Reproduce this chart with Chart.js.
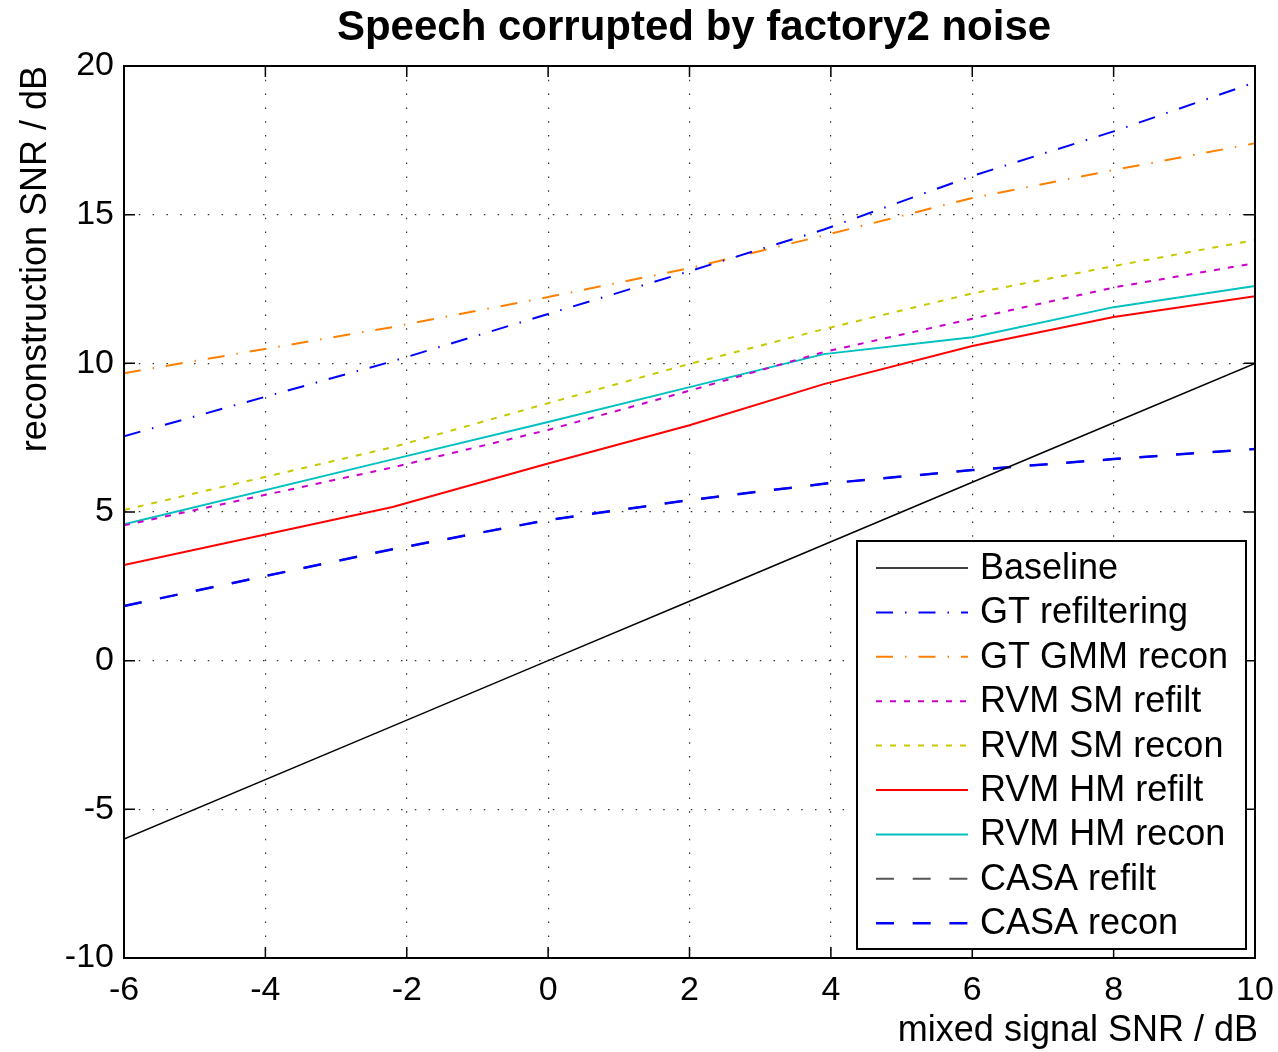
<!DOCTYPE html>
<html>
<head>
<meta charset="utf-8">
<script src="https://cdn.jsdelivr.net/npm/chart.js@4.4.0/dist/chart.umd.min.js"></script>
<style>
  body { margin: 0; background: #fff; }
  canvas { display: block; }
</style>
</head>
<body>
<canvas id="snrChart" width="1278" height="1052"></canvas>
<script>
// mixed signal SNR (dB) where each system was measured
const mixedSnr = [-6, -2.2, 0, 2, 3.9, 6, 8, 10];

// reconstruction SNR (dB) per system
const baseline     = [-6, -2.2, 0, 2, 3.9, 6, 8, 10];
const gtRefilter   = [7.55, 10.07, 11.66, 13.1, 14.5, 16.3, 17.8, 19.45];
const gtGmmRecon   = [9.67, 11.22, 12.23, 13.2, 14.3, 15.56, 16.5, 17.4];
const rvmSmRefilt  = [4.55, 6.5, 7.76, 9.08, 10.38, 11.5, 12.55, 13.37];
const rvmSmRecon   = [5.07, 7.18, 8.66, 9.98, 11.15, 12.35, 13.27, 14.15];
const rvmHmRefilt  = [3.22, 5.17, 6.63, 7.92, 9.3, 10.58, 11.56, 12.26];
const rvmHmRecon   = [4.59, 6.77, 8.03, 9.2, 10.31, 10.88, 11.89, 12.6];
const casaRefilt   = [1.84, 3.75, 4.73, 5.4, 5.95, 6.41, 6.78, 7.12];
const casaRecon    = [1.84, 3.75, 4.73, 5.4, 5.95, 6.41, 6.78, 7.12];

const xTicks = [-6, -4, -2, 0, 2, 4, 6, 8, 10];
const yTicks = [-10, -5, 0, 5, 10, 15, 20];

const FONT = "'Liberation Sans', Arial, Helvetica, sans-serif";

function pts(ys) {
    return mixedSnr.map((x, i) => ({ x: x, y: ys[i] }));
}

const dashDot = [17, 12, 1.5, 12];
const dotted = [6, 8];
const dashed = [18, 18.7];

// Box, inward ticks, titles and the legend, MATLAB style
const matlabLook = {
    id: 'matlabLook',
    afterDatasetsDraw(chart) {
        const ctx = chart.ctx;
        const a = chart.chartArea;
        const xs = chart.scales.x;
        const ys = chart.scales.y;
        ctx.save();
        ctx.strokeStyle = '#000';
        ctx.lineWidth = 2;
        ctx.setLineDash([]);
        ctx.strokeRect(a.left, a.top, a.right - a.left, a.bottom - a.top);

        // inward tick marks on all four sides
        ctx.lineWidth = 1.5;
        ctx.beginPath();
        xTicks.forEach(v => {
            const px = xs.getPixelForValue(v);
            ctx.moveTo(px, a.bottom); ctx.lineTo(px, a.bottom - 11);
            ctx.moveTo(px, a.top); ctx.lineTo(px, a.top + 11);
        });
        yTicks.forEach(v => {
            const py = ys.getPixelForValue(v);
            ctx.moveTo(a.left, py); ctx.lineTo(a.left + 11, py);
            ctx.moveTo(a.right, py); ctx.lineTo(a.right - 11, py);
        });
        ctx.stroke();
        ctx.restore();
    },
    afterDraw(chart) {
        const ctx = chart.ctx;
        const a = chart.chartArea;
        ctx.save();
        ctx.fillStyle = '#000';

        // title
        ctx.font = 'bold 42px ' + FONT;
        ctx.textAlign = 'center';
        ctx.textBaseline = 'middle';
        ctx.fillText('Speech corrupted by factory2 noise', 694, 28);

        // axis titles
        ctx.font = '36px ' + FONT;
        ctx.textAlign = 'right';
        ctx.fillText('mixed signal SNR / dB', 1258, 1031);
        ctx.save();
        ctx.translate(36, a.top);
        ctx.rotate(-Math.PI / 2);
        ctx.textAlign = 'right';
        ctx.textBaseline = 'middle';
        ctx.fillText('reconstruction SNR / dB', 0, 0);
        ctx.restore();

        // legend
        const lx = 857, ly = 541, lw = 389, lh = 408;
        ctx.fillStyle = '#fff';
        ctx.fillRect(lx, ly, lw, lh);
        ctx.strokeStyle = '#000';
        ctx.lineWidth = 2;
        ctx.setLineDash([]);
        ctx.strokeRect(lx, ly, lw, lh);

        ctx.font = '36px ' + FONT;
        ctx.textAlign = 'left';
        ctx.textBaseline = 'middle';
        chart.data.datasets.forEach((ds, i) => {
            const y = 568 + i * 44.4;
            ctx.strokeStyle = ds.borderColor;
            ctx.lineWidth = ds.borderWidth;
            ctx.setLineDash(ds.borderDash || []);
            ctx.beginPath();
            ctx.moveTo(876, y);
            ctx.lineTo(968, y);
            ctx.stroke();
            ctx.setLineDash([]);
            ctx.fillStyle = '#000';
            ctx.fillText(ds.label, 980, y + 1);
        });
        ctx.restore();
    }
};

const ctx = document.getElementById('snrChart').getContext('2d');

const myChart = new Chart(ctx, {
    type: 'line',
    data: {
        datasets: [
            { label: 'Baseline', data: pts(baseline), borderColor: '#000000', borderWidth: 1.5, borderDash: [] },
            { label: 'GT refiltering', data: pts(gtRefilter), borderColor: '#0000ff', borderWidth: 2, borderDash: dashDot },
            { label: 'GT GMM recon', data: pts(gtGmmRecon), borderColor: '#ff8000', borderWidth: 2, borderDash: dashDot },
            { label: 'RVM SM refilt', data: pts(rvmSmRefilt), borderColor: '#cc00cc', borderWidth: 2, borderDash: dotted },
            { label: 'RVM SM recon', data: pts(rvmSmRecon), borderColor: '#c8c800', borderWidth: 2, borderDash: dotted },
            { label: 'RVM HM refilt', data: pts(rvmHmRefilt), borderColor: '#ff0000', borderWidth: 2, borderDash: [] },
            { label: 'RVM HM recon', data: pts(rvmHmRecon), borderColor: '#00c0c0', borderWidth: 2, borderDash: [] },
            // sits right under CASA recon in the figure
            { label: 'CASA refilt', data: pts(casaRefilt), borderColor: '#555555', borderWidth: 2, borderDash: dashed, order: 1 },
            { label: 'CASA recon', data: pts(casaRecon), borderColor: '#0000ff', borderWidth: 2.5, borderDash: dashed }
        ]
    },
    options: {
        responsive: false,
        animation: false,
        elements: {
            point: { radius: 0, hoverRadius: 0 },
            line: { tension: 0, fill: false }
        },
        layout: {
            padding: { left: 0, top: 66, right: 23, bottom: 0 }
        },
        scales: {
            x: {
                type: 'linear',
                min: -6,
                max: 10,
                afterFit: scale => {
                    scale.height = 94;
                    scale.paddingLeft = 0;
                    scale.paddingRight = 0;
                },
                afterBuildTicks: scale => { scale.ticks = xTicks.map(v => ({ value: v })); },
                ticks: {
                    color: '#000',
                    padding: 12,
                    font: { family: FONT, size: 34 },
                    maxRotation: 0
                },
                grid: {
                    color: '#333',
                    lineWidth: 1.2,
                    drawTicks: false
                },
                border: { display: true, color: '#000', width: 2, dash: [1.5, 12.3] }
            },
            y: {
                type: 'linear',
                min: -10,
                max: 20,
                afterFit: scale => {
                    scale.width = 124;
                    scale.paddingTop = 0;
                    scale.paddingBottom = 0;
                },
                afterBuildTicks: scale => { scale.ticks = yTicks.map(v => ({ value: v })); },
                ticks: {
                    color: '#000',
                    padding: 10,
                    font: { family: FONT, size: 34 }
                },
                grid: {
                    color: '#333',
                    lineWidth: 1.2,
                    drawTicks: false
                },
                border: { display: true, color: '#000', width: 2, dash: [1.5, 12.3] }
            }
        },
        plugins: {
            legend: { display: false },
            title: { display: false },
            tooltip: { enabled: false }
        }
    },
    plugins: [matlabLook]
});
</script>
</body>
</html>
